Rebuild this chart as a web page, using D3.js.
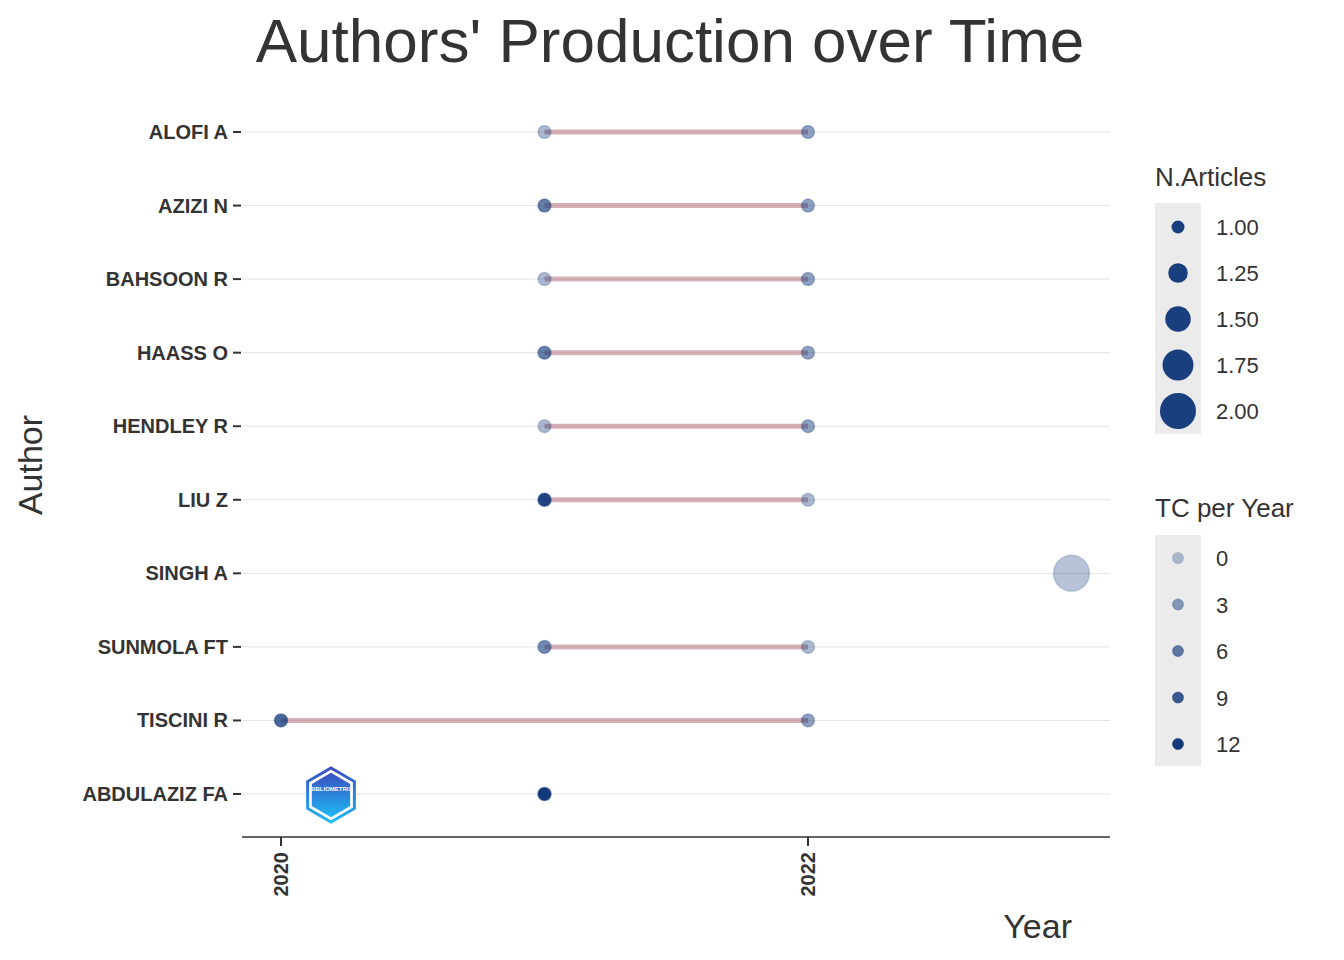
<!DOCTYPE html>
<html><head><meta charset="utf-8">
<script src="https://cdn.jsdelivr.net/npm/d3@7/dist/d3.min.js"></script>
<style>body{margin:0;background:#fff}</style>
</head><body><svg id="chart" width="1344" height="960"></svg>
<script>
// authors top to bottom
var authors = ['ALOFI A', 'AZIZI N', 'BAHSOON R', 'HAASS O', 'HENDLEY R', 'LIU Z', 'SINGH A', 'SUNMOLA FT', 'TISCINI R', 'ABDULAZIZ FA'];
// one entry per point: author, year, articles, tc per year
var ptAuthor = ['ALOFI A', 'ALOFI A', 'AZIZI N', 'AZIZI N', 'BAHSOON R', 'BAHSOON R', 'HAASS O', 'HAASS O', 'HENDLEY R', 'HENDLEY R',
  'LIU Z', 'LIU Z', 'SINGH A', 'SUNMOLA FT', 'SUNMOLA FT', 'TISCINI R', 'TISCINI R', 'ABDULAZIZ FA'];
var ptYear = [2021, 2022, 2021, 2022, 2021, 2022, 2021, 2022, 2021, 2022, 2021, 2022, 2023, 2021, 2022, 2020, 2022, 2021];
var ptArticles = [1, 1, 1, 1, 1, 1, 1, 1, 1, 1, 1, 1, 2, 1, 1, 1, 1, 1];
var ptTC = [1, 3, 6, 3, 1, 3, 6, 3, 1, 3, 11, 1, 0, 5, 1, 8, 3, 12];
var sizeTicks = [1.00, 1.25, 1.50, 1.75, 2.00];
var tcTicks = [0, 3, 6, 9, 12];
var xTicks = [2020, 2022];

var blue = '#12397a';
var svg = d3.select('#chart');
var x = d3.scaleLinear().domain([2020, 2022]).range([281, 808]);
var y = d3.scalePoint().domain(authors).range([132, 794]);
var r = d3.scaleSqrt().domain([1, 2]).range([6.5, 18]);
var op = d3.scaleLinear().domain([0, 12]).range([0.3, 1]);

svg.append('text').attr('x', 670).attr('y', 62).attr('text-anchor', 'middle')
  .style('font', '62px "Liberation Sans", Arial').style('fill', '#333')
  .text("Authors' Production over Time");

// grid
svg.selectAll('.grid').data(authors).enter().append('line')
  .attr('x1', 242).attr('x2', 1110).attr('y1', function (d) { return y(d); }).attr('y2', function (d) { return y(d); })
  .style('stroke', '#e3e3e3').style('stroke-width', 1);

// y axis labels and ticks
var ya = svg.append('g');
ya.selectAll('text').data(authors).enter().append('text')
  .attr('x', 228).attr('y', function (d) { return y(d) + 7; }).attr('text-anchor', 'end')
  .style('font', 'bold 20px "Liberation Sans", Arial').style('fill', '#333').text(function (d) { return d; });
ya.selectAll('line').data(authors).enter().append('line')
  .attr('x1', 233).attr('x2', 241).attr('y1', function (d) { return y(d); }).attr('y2', function (d) { return y(d); })
  .style('stroke', '#333').style('stroke-width', 2);

// segments
authors.forEach(function (a) {
  var yrs = ptYear.filter(function (v, i) { return ptAuthor[i] === a; });
  if (yrs.length > 1) {
    svg.append('line').attr('x1', x(d3.min(yrs))).attr('x2', x(d3.max(yrs)))
      .attr('y1', y(a)).attr('y2', y(a))
      .style('stroke', '#b5707a').style('stroke-opacity', 0.55).style('stroke-width', 5);
  }
});

// points
svg.selectAll('.pt').data(ptYear).enter().append('circle')
  .attr('cx', function (d) { return x(d); })
  .attr('cy', function (d, i) { return y(ptAuthor[i]); })
  .attr('r', function (d, i) { return r(ptArticles[i]); })
  .style('fill', blue).style('fill-opacity', function (d, i) { return op(ptTC[i]); })
  .style('stroke', blue).style('stroke-opacity', function (d, i) { return op(ptTC[i]) * 0.6; })
  .style('stroke-width', 1.5);

// x axis
svg.append('line').attr('x1', 242).attr('x2', 1110).attr('y1', 837).attr('y2', 837)
  .style('stroke', '#666').style('stroke-width', 2);
xTicks.forEach(function (t) {
  svg.append('line').attr('x1', x(t)).attr('x2', x(t)).attr('y1', 837).attr('y2', 846)
    .style('stroke', '#333').style('stroke-width', 2);
  svg.append('text').attr('transform', 'translate(' + (x(t) + 7) + ',852) rotate(-90)')
    .attr('text-anchor', 'end').style('font', 'bold 20px "Liberation Sans", Arial').style('fill', '#333').text(t);
});
svg.append('text').attr('x', 1072).attr('y', 938).attr('text-anchor', 'end')
  .style('font', '34px "Liberation Sans", Arial').style('fill', '#333').text('Year');
svg.append('text').attr('transform', 'translate(42,465) rotate(-90)').attr('text-anchor', 'middle')
  .style('font', '34px "Liberation Sans", Arial').style('fill', '#333').text('Author');

// logo
var lg = svg.append('g').attr('transform', 'translate(331,795)');
var hex = d3.range(6).map(function (i) { var a = Math.PI / 3 * i - Math.PI / 2; return [27 * Math.cos(a), 27 * Math.sin(a)]; });
var grad = svg.append('defs').append('linearGradient').attr('id', 'lg').attr('x1', 0).attr('y1', 0).attr('x2', 0).attr('y2', 1);
grad.append('stop').attr('offset', 0).attr('stop-color', '#3a4fc0');
grad.append('stop').attr('offset', 1).attr('stop-color', '#1fb8f5');
lg.append('polygon').attr('points', hex.join(' ')).style('fill', 'white').style('stroke', 'url(#lg)').style('stroke-width', 3);
lg.append('polygon').attr('points', hex.map(function (p) { return [p[0] * 0.82, p[1] * 0.82]; }).join(' ')).style('fill', 'url(#lg)');
lg.append('text').attr('y', -4).attr('text-anchor', 'middle').style('font', 'bold 6px Arial').style('fill', 'white').text('BIBLIOMETRIX');

// legends
function legendBox(x0, y0, h) {
  svg.append('rect').attr('x', x0).attr('y', y0).attr('width', 46).attr('height', h).style('fill', '#ebebeb');
}
svg.append('text').attr('x', 1155).attr('y', 186).style('font', '26px "Liberation Sans", Arial').style('fill', '#333').text('N.Articles');
legendBox(1155, 203, 231);
sizeTicks.forEach(function (t, i) {
  var cy = 227 + i * 46;
  svg.append('circle').attr('cx', 1178).attr('cy', cy).attr('r', r(t)).style('fill', blue).style('fill-opacity', 0.97);
  svg.append('text').attr('x', 1216).attr('y', cy + 8).style('font', '22px "Liberation Sans", Arial').style('fill', '#333').text(t.toFixed(2));
});
svg.append('text').attr('x', 1155).attr('y', 517).style('font', '26px "Liberation Sans", Arial').style('fill', '#333').text('TC per Year');
legendBox(1155, 535, 231);
tcTicks.forEach(function (t, i) {
  var cy = 558 + i * 46.5;
  svg.append('circle').attr('cx', 1178).attr('cy', cy).attr('r', 5.5)
    .style('fill', blue).style('fill-opacity', op(t)).style('stroke', blue).style('stroke-opacity', op(t) * 0.6);
  svg.append('text').attr('x', 1216).attr('y', cy + 8).style('font', '22px "Liberation Sans", Arial').style('fill', '#333').text(t);
});
</script></body></html>
